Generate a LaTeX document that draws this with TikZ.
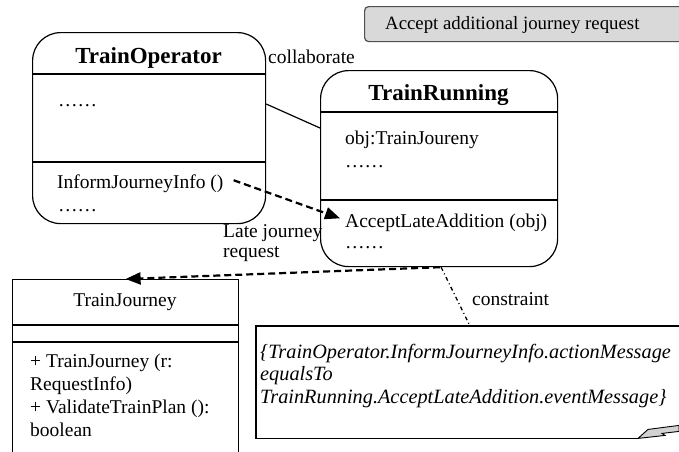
\documentclass[tikz,border=0pt]{standalone}
\usepackage{fontspec}
\setmainfont{Liberation Serif}
\usetikzlibrary{arrows.meta}
\definecolor{hdrfill}{HTML}{D9D9D9}
\definecolor{hdrline}{HTML}{505050}
\begin{document}
\begin{tikzpicture}[x=1pt,y=-1pt,
  txt/.style={inner sep=0pt, anchor=base west, font=\fontsize{19.5}{22.7}\selectfont},
  oclline/.style={inner sep=0pt, anchor=base west, font=\fontsize{20.3}{22.5}\selectfont\itshape},
  ctitle/.style={inner sep=0pt, anchor=base, font=\fontsize{23}{26}\selectfont\bfseries},
  roundclass/.style={draw, line width=1.2pt, rounded corners=28pt, inner sep=0pt, anchor=north west},
  squareclass/.style={draw, line width=1.2pt, inner sep=0pt, anchor=north west},
  sepline/.style={line width=1.2pt},
  msgarrow/.style={line width=2.2pt, dash pattern=on 7pt off 4pt,
    -{Triangle[length=15pt,width=12pt]}},
  constraintline/.style={line width=1.3pt, dash pattern=on 4pt off 3pt on 1pt off 3pt},
]
\clip (0,0) rectangle (679,451);

% state header
\node[draw=hdrline, fill=hdrfill, line width=1.2pt, rounded corners=4pt,
      minimum width=360pt, minimum height=35pt, inner sep=0pt, anchor=north west]
      (hdr) at (364,6) {};
\node[txt, font=\fontsize{18.8}{22}\selectfont] (hdrtext) at (385,29) {Accept additional journey request};

% TrainOperator
\node[roundclass, minimum width=233pt, minimum height=191pt] (op) at (32,32) {};
\draw[sepline] ([yshift=-42pt]op.north west) -- ([yshift=-42pt]op.north east);
\draw[sepline] ([yshift=-130pt]op.north west) -- ([yshift=-130pt]op.north east);
\node[ctitle] (optitle) at (148.5,63) {TrainOperator};
\node[txt] (opattr) at (58,106) {……};
\node[txt] (inform) at (57,188) {InformJourneyInfo ()};
\node[txt] (opmore) at (58,211) {……};

% TrainRunning
\node[roundclass, minimum width=237pt, minimum height=196pt] (tr) at (320,70) {};
\draw[sepline] ([yshift=-42pt]tr.north west) -- ([yshift=-42pt]tr.north east);
\draw[sepline] ([yshift=-130pt]tr.north west) -- ([yshift=-130pt]tr.north east);
\node[ctitle] (trtitle) at (438.5,100) {TrainRunning};
\node[txt] (trattr) at (345,144) {obj:TrainJoureny};
\node[txt] (trattr2) at (345,167) {……};
\node[txt] (accept) at (345,227) {AcceptLateAddition (obj)};
\node[txt] (trmore) at (345,248) {……};

% association
\draw[sepline] ([yshift=-72pt]op.north east) -- ([yshift=-58pt]tr.north west);
\node[txt] (collab) at (268,63) {collaborate};

% TrainJourney
\node[squareclass, minimum width=226pt, minimum height=200pt] (tj) at (12,279) {};
\draw[sepline] ([yshift=-46pt]tj.north west) -- ([yshift=-46pt]tj.north east);
\draw[sepline] ([yshift=-63pt]tj.north west) -- ([yshift=-63pt]tj.north east);
\node[txt, anchor=base] (tjtitle) at (125,306) {TrainJourney};
\node[txt] (tjop1) at (30,367) {+ TrainJourney (r:};
\node[txt] (tjop1b) at (30,390) {RequestInfo)};
\node[txt] (tjop2) at (30,413) {+ ValidateTrainPlan ():};
\node[txt] (tjop2b) at (30,436) {boolean};

% messages
\draw[msgarrow] ([xshift=10pt,yshift=3pt]inform.east) -- ([xshift=-5pt,yshift=4pt]accept.west);
\node[txt] (late) at (223,237) {Late journey};
\node[txt] (req) at (223,257) {request};
\draw[msgarrow] ([xshift=1pt]tr.south) -- (tj.north);

% constraint note
\node[inner sep=0pt, minimum width=460pt, minimum height=112pt, anchor=north west]
      (note) at (256,326) {};
\coordinate (notepin) at ([xshift=214pt]note.north west);
\draw[sepline] (note.north east) -- (note.north west) -- (note.south west)
      -- ([xshift=382pt]note.south west);
\draw[line width=0.9pt, fill=gray!35]
  ([xshift=382pt]note.south west) -- ++(10,-9) -- ++(31,-4) -- ++(0,6)
  -- ++(-17,2) -- ++(3,2) -- cycle;
\draw[constraintline] ([xshift=2pt]tr.south) -- (notepin);
\node[txt] (constr) at (472,305) {constraint};
\node[oclline] (ocl1) at (260,358) {\{TrainOperator.InformJourneyInfo.actionMessage};
\node[oclline] (ocl2) at (260,380) {equalsTo};
\node[oclline] (ocl3) at (260,403) {TrainRunning.AcceptLateAddition.eventMessage\}};
\end{tikzpicture}
\end{document}
